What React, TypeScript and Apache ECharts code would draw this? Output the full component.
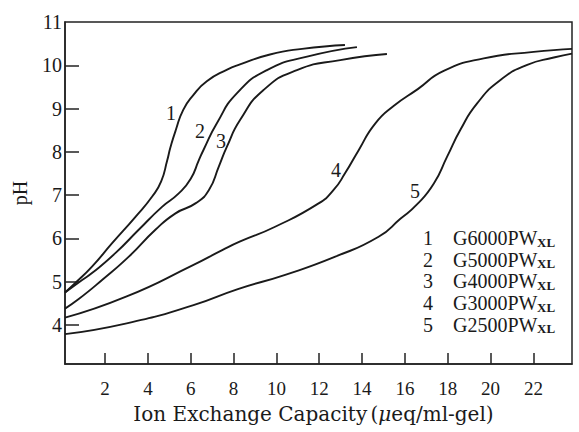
import React, { useEffect, useRef } from 'react';
import * as echarts from 'echarts';

// ---- data ----
const seriesNames = ['G6000PW', 'G5000PW', 'G4000PW', 'G3000PW', 'G2500PW'];
const curveNumbers = ['1', '2', '3', '4', '5'];
const xTickValues = [2, 4, 6, 8, 10, 12, 14, 16, 18, 20, 22];
const yTickValues = [4, 5, 6, 7, 8, 9, 10];
const yLabelValues = [4, 5, 6, 7, 8, 9, 10, 11];

const g6000 = [
  [0.13, 4.75], [0.61, 4.97], [1.39, 5.35], [2.33, 5.89], [3.42, 6.5], [4.2, 6.97],
  [4.62, 7.32], [4.9, 7.8], [5.05, 8.1], [5.3, 8.5], [5.65, 8.97], [6.1, 9.3],
  [6.75, 9.63], [7.7, 9.9], [8.3, 10.02], [9.7, 10.25], [11.2, 10.38], [13.2, 10.47],
];
const g5000 = [
  [0.13, 4.75], [0.93, 5.04], [1.39, 5.2], [2.48, 5.66], [3.57, 6.2], [4.66, 6.73],
  [5.44, 7.04], [6.0, 7.38], [6.38, 7.81], [6.6, 8.05], [7.22, 8.66], [8.15, 9.35],
  [9.56, 9.89], [11.43, 10.2], [13.76, 10.42],
];
const g4000 = [
  [0.13, 4.38], [0.77, 4.6], [1.86, 5.04], [3.11, 5.58], [4.35, 6.2], [5.29, 6.58],
  [6.22, 6.81], [6.85, 7.12], [7.31, 7.66], [7.69, 8.12], [8.31, 8.74], [9.4, 9.43],
  [10.96, 9.89], [12.98, 10.12], [15.16, 10.26],
];
const g3000 = [
  [0.13, 4.17], [3.01, 4.66], [6.13, 5.39], [7.47, 5.73], [8.31, 5.93], [9.94, 6.27],
  [11.97, 6.81], [12.67, 7.12], [13.21, 7.51], [13.84, 8.04], [14.62, 8.66],
  [15.5, 9.07], [16.6, 9.45], [17.81, 9.87], [19.68, 10.16], [22.01, 10.31], [23.8, 10.38],
];
const g2500 = [
  [0.13, 3.79], [3.01, 4.04], [6.13, 4.46], [8.2, 4.83], [10.41, 5.16], [12.75, 5.58],
  [14.77, 6.04], [15.8, 6.46], [16.55, 6.78], [17.35, 7.27], [17.97, 7.89], [18.59, 8.51],
  [19.37, 9.12], [20.46, 9.66], [21.71, 10.01], [22.95, 10.18], [23.8, 10.27],
];
const seriesData = [g6000, g5000, g4000, g3000, g2500];

const INK = '#1a1a1a';
const SERIF = '"Liberation Serif", "Times New Roman", serif';
const WIDE_SERIF = '"DejaVu Serif", serif';

export default function App() {
  const ref = useRef<HTMLDivElement>(null);

  useEffect(() => {
    if (!ref.current) return;
    const chart = echarts.init(ref.current, undefined, { renderer: 'svg' });

    // curve number annotations (pixel positions of the printed labels)
    const curveLabelPos = [
      [171, 113], [200, 131], [221, 141], [336, 170], [415, 191],
    ];
    const graphic: any[] = [];
    curveNumbers.forEach((n, i) => {
      graphic.push({
        type: 'text', x: curveLabelPos[i][0], y: curveLabelPos[i][1], silent: true,
        style: { text: n, font: `20px ${SERIF}`, fill: INK, align: 'center', verticalAlign: 'middle', textAlign: 'center', textVerticalAlign: 'middle' },
      });
    });
    // legend block
    seriesNames.forEach((name, i) => {
      const y = 238 + i * 21.7;
      graphic.push({
        type: 'text', x: 428, y, silent: true,
        style: { text: curveNumbers[i], font: `20px ${SERIF}`, fill: INK, align: 'center', verticalAlign: 'middle', textAlign: 'center', textVerticalAlign: 'middle' },
      });
      graphic.push({
        type: 'text', x: 453, y, silent: true,
        style: { text: name, font: `20px ${SERIF}`, fill: INK, align: 'left', verticalAlign: 'middle', textAlign: 'left', textVerticalAlign: 'middle' },
      });
      graphic.push({
        type: 'text', x: 537, y: y + 4, silent: true,
        style: { text: 'XL', font: `bold 13px ${SERIF}`, fill: INK, align: 'left', verticalAlign: 'middle', textAlign: 'left', textVerticalAlign: 'middle' },
      });
    });

    const axisLineStyle = { color: '#222', width: 1.5 };

    chart.setOption({
      animation: false,
      backgroundColor: '#ffffff',
      grid: {
        left: 65, right: 7, top: 22, bottom: 68,
        show: true, borderColor: '#222', borderWidth: 1.5, backgroundColor: 'transparent',
      },
      xAxis: {
        type: 'value', min: 0.13, max: 23.8,
        name: '{a|Ion Exchange Capacity} {b|(}{m|μ}{b|eq/ml-gel)}',
        nameLocation: 'middle', nameGap: 40,
        nameTextStyle: {
          padding: [0, 10, 0, 0],
          rich: {
            a: { fontFamily: WIDE_SERIF, fontSize: 20, color: INK },
            b: { fontFamily: WIDE_SERIF, fontSize: 20, color: INK },
            m: { fontFamily: WIDE_SERIF, fontSize: 20, fontStyle: 'italic', color: INK },
          },
        },
        axisLine: { show: true, onZero: false, lineStyle: axisLineStyle },
        axisTick: { show: true, inside: true, length: 11, customValues: xTickValues, lineStyle: axisLineStyle },
        axisLabel: { customValues: xTickValues, margin: 15, fontFamily: SERIF, fontSize: 19, color: INK },
        splitLine: { show: false },
      },
      yAxis: {
        type: 'value', min: 3.1, max: 11,
        name: 'pH', nameLocation: 'middle', nameRotate: 90, nameGap: 35,
        nameTextStyle: { fontFamily: SERIF, fontSize: 20, color: INK },
        axisLine: { show: true, onZero: false, lineStyle: axisLineStyle },
        axisTick: { show: true, inside: true, length: 14, customValues: yTickValues, lineStyle: axisLineStyle },
        axisLabel: { customValues: yLabelValues, margin: 3, fontFamily: SERIF, fontSize: 20, color: INK },
        splitLine: { show: false },
      },
      series: seriesData.map((d, i) => ({
        type: 'line', name: seriesNames[i], data: d,
        showSymbol: false, symbol: 'none', smooth: 0.55,
        lineStyle: { color: INK, width: 1.9 }, clip: true, silent: true,
      })),
      graphic,
    });

    return () => chart.dispose();
  }, []);

  return (
    <div
      ref={ref}
      style={{ position: 'fixed', left: 0, top: 0, width: 579, height: 432, background: '#fff' }}
    />
  );
}
